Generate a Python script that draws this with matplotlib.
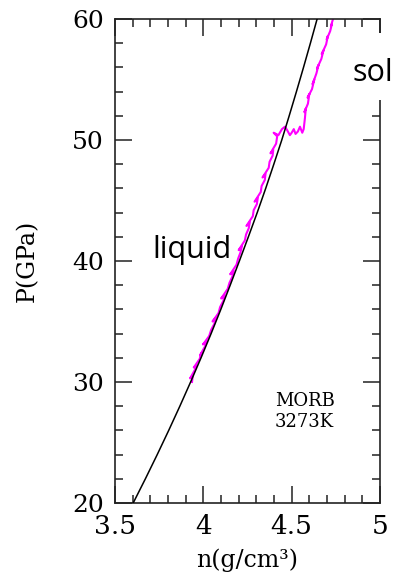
import matplotlib
matplotlib.use("Agg")
import matplotlib.pyplot as plt
from matplotlib.patches import Rectangle
from matplotlib.ticker import MultipleLocator

# Equation-of-state fit: pressure (GPa) vs density (g/cm^3)
fit_pressure = [20, 22, 24, 26, 28, 30, 32, 34, 36, 38, 40,
                42, 44, 46, 48, 50, 52, 54, 56, 58, 60, 61]
fit_density = [3.603, 3.672, 3.739, 3.804, 3.867, 3.928, 3.987, 4.044, 4.099, 4.152, 4.204,
               4.255, 4.305, 4.353, 4.399, 4.444, 4.486, 4.527, 4.567, 4.606, 4.644, 4.662]

# Simulated trajectory (density, pressure)
md_density = [3.936, 3.940, 3.925, 3.952, 3.962, 3.946, 3.979, 3.990, 3.981, 4.008,
              4.019, 3.998, 4.033, 4.044, 4.062, 4.070, 4.052, 4.086, 4.095, 4.113,
              4.121, 4.101, 4.138, 4.148, 4.164, 4.172, 4.152, 4.188, 4.197,
              4.210, 4.218, 4.200, 4.235, 4.242, 4.257, 4.263, 4.244, 4.280, 4.285,
              4.303, 4.308, 4.290, 4.325, 4.330, 4.348, 4.352, 4.335, 4.370, 4.375,
              4.392, 4.396, 4.380, 4.412, 4.418, 4.398, 4.425, 4.445, 4.462,
              4.475, 4.490, 4.500, 4.512, 4.522, 4.535, 4.547, 4.560, 4.568,
              4.575, 4.580, 4.572, 4.592, 4.600, 4.590, 4.615, 4.628, 4.618, 4.640,
              4.652, 4.643, 4.668, 4.680, 4.670, 4.695, 4.705, 4.698, 4.718, 4.728,
              4.722, 4.738]
md_pressure = [30.0, 30.5, 30.3, 31.0, 31.4, 31.2, 31.9, 32.4, 32.2, 32.9,
               33.4, 33.1, 33.8, 34.3, 34.8, 35.3, 35.0, 35.7, 36.2, 36.7,
               37.2, 36.9, 37.7, 38.2, 38.7, 39.2, 38.9, 39.7, 40.2,
               40.7, 41.2, 40.9, 41.7, 42.2, 42.7, 43.2, 42.9, 43.7, 44.2,
               44.7, 45.2, 44.9, 45.7, 46.2, 46.7, 47.2, 46.9, 47.7, 48.2,
               48.7, 49.2, 48.9, 49.7, 50.3, 50.6, 50.4, 50.9, 51.1,
               50.8, 50.4, 50.6, 50.9, 50.5, 50.7, 51.1, 50.6, 50.9,
               51.8, 52.6, 52.3, 53.0, 53.8, 53.5, 54.2, 55.0, 54.6, 55.5,
               56.2, 55.9, 56.7, 57.4, 57.1, 57.9, 58.6, 58.3, 59.0, 59.6,
               59.4, 60.2]

x_ticks = [3.5, 4, 4.5, 5]
x_tick_labels = ["3.5", "4", "4.5", "5"]
y_ticks = [20, 30, 40, 50, 60]
y_tick_labels = ["20", "30", "40", "50", "60"]

W, H = 394, 583
fig = plt.figure(figsize=(W / 100, H / 100), dpi=100)
ax = fig.add_axes([115 / W, 1 - 503 / H, 265 / W, 484 / H])

ax.plot(md_density, md_pressure, color="#ff00ff", lw=1.5, zorder=2)
ax.plot(fit_density, fit_pressure, color="black", lw=1.1, zorder=3)

ax.set_xlim(3.5, 5)
ax.set_ylim(20, 60)
ax.set_xticks(x_ticks)
ax.set_xticklabels(x_tick_labels)
ax.set_yticks(y_ticks)
ax.set_yticklabels(y_tick_labels)
ax.xaxis.set_minor_locator(MultipleLocator(0.1))
ax.yaxis.set_minor_locator(MultipleLocator(2))

serif = "DejaVu Serif"
ax.tick_params(which="both", direction="in", top=True, right=True,
               width=1.1, color="#222222")
ax.tick_params(which="major", length=12)
ax.tick_params(which="minor", length=6)
ax.tick_params(axis="x", which="major", labelsize=19, pad=8)
ax.tick_params(axis="y", which="major", labelsize=18, pad=8)
for lab in ax.get_xticklabels() + ax.get_yticklabels():
    lab.set_fontfamily(serif)
for sp in ax.spines.values():
    sp.set_linewidth(1.2)
    sp.set_color("#222222")

ax.set_xlabel("n(g/cm³)", fontsize=17, fontfamily=serif, labelpad=7)
ax.set_ylabel("P(GPa)", fontsize=17, fontfamily=serif, labelpad=24)

ax.text(4.405, 29.2, "MORB\n3273K", fontsize=13, fontfamily=serif,
        ha="left", va="top", linespacing=1.25)

# Phase labels
fig.text(152 / W, 1 - 258 / H, "liquid", fontsize=22, fontfamily="Open Sans",
         ha="left", va="baseline", zorder=6)
fig.patches.append(Rectangle((349 / W, 1 - 100 / H), 45 / W, 67 / H,
                             transform=fig.transFigure, facecolor="white",
                             edgecolor="none", zorder=5))
fig.text(352 / W, 1 - 81 / H, "sol", fontsize=22, fontfamily="Open Sans",
         ha="left", va="baseline", zorder=6)

fig.savefig("out.png", dpi=100)
